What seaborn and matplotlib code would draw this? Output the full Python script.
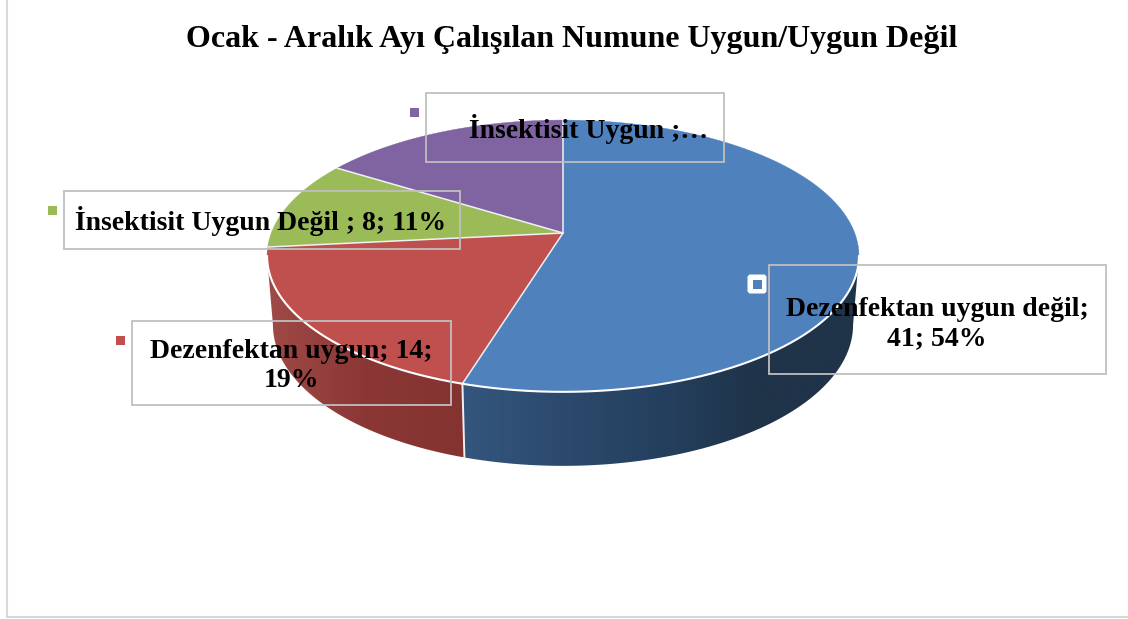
import numpy as np
import matplotlib
matplotlib.use('Agg')
import matplotlib.pyplot as plt
from matplotlib.patches import Polygon, FancyBboxPatch, Rectangle
import seaborn as sns

# Veri
title = "Ocak - Aralık Ayı Çalışılan Numune Uygun/Uygun Değil"
counts = [41, 14, 8, 12]
labels = ["Dezenfektan uygun değil;\n41; 54%", "Dezenfektan uygun; 14;\n19%",
          "İnsektisit Uygun Değil ; 8; 11%", "İnsektisit Uygun ;…"]
top_colors = ["#4f81bd", "#c0504d", "#9bbb59", "#8064a2"]

# Yerlesim (piksel)
W, H = 1128, 619
label_xy = [(937, 324), (291, 366), (261, 221), (589, 129)]
boxes = [(769, 265, 1106, 374), (132, 321, 451, 405), (64, 191, 460, 249), (426, 93, 724, 162)]
keys = [(757, 284), (120, 340), (52, 210), (414, 112)]

K = 0.169  # perspektif


def rim(theta, apex_y, r, s):
    # theta: 12 yonunden saat yonunde derece
    t = np.radians(theta)
    u, v = np.sin(t), np.cos(t)
    w = 1 + K * v
    return 563 + r * u / w, apex_y - s * v / w


def top_rim(theta):
    return rim(theta, 233, 291.7, 132)


def bottom_rim(theta):
    return rim(theta, 301, 285.9, 137)


def wall(ax, t0, t1, cmap):
    th = np.linspace(t0, t1, 150)
    x1, y1 = top_rim(th)
    x2, y2 = bottom_rim(th)
    xy = np.r_[np.c_[x1, y1], np.c_[x2, y2][::-1]]
    poly = Polygon(xy, closed=True, fc='none', ec='none')
    ax.add_patch(poly)
    x0, x3 = xy[:, 0].min(), xy[:, 0].max()
    im = ax.imshow(np.linspace(0, 1, 256)[None, :], cmap=cmap, aspect='auto',
                   extent=(x0, x3, xy[:, 1].max(), xy[:, 1].min()), zorder=1)
    im.set_clip_path(poly)
    return x1, y1, x2, y2


sns.set_theme(style='white')
plt.rcParams['font.family'] = ['Liberation Serif', 'DejaVu Serif']

fig = plt.figure(figsize=(W / 100, H / 100), dpi=100)
ax = fig.add_axes([0, 0, 1, 1])

edges = np.r_[0, np.cumsum(counts)] / np.sum(counts) * 360

# yan duvarlar
blue_wall = sns.blend_palette(["#34567d", "#2c4a6d", "#25405f", "#1f3349", "#1f3349"], 64, as_cmap=True)
red_wall = sns.blend_palette(["#a04a47", "#8a3735", "#853331"], 64, as_cmap=True)
xb = wall(ax, 99.7, edges[1], blue_wall)
xr = wall(ax, edges[1], 260.3, red_wall)

# ust yuzey
for i, c in enumerate(top_colors):
    th = np.linspace(edges[i], edges[i + 1], 120)
    x, y = top_rim(th)
    xy = np.r_[[[563, 233]], np.c_[x, y]]
    ax.add_patch(Polygon(xy, closed=True, fc=c, ec=c, lw=0.3, zorder=2))

# dilim sinirlari
for e in edges[:-1]:
    ex, ey = top_rim(e)
    ax.plot([563, ex], [233, ey], color='#eef1f5', lw=1.1, zorder=3, solid_capstyle='round')

# on kenar cizgisi ve dikis
ax.plot(xb[0], xb[1], color='white', lw=1.5, zorder=3)
ax.plot(xr[0], xr[1], color='white', lw=1.5, zorder=3)
sx0, sy0 = top_rim(edges[1])
sx1, sy1 = bottom_rim(edges[1])
ax.plot([sx0, sx1], [sy0, sy1], color='#f0f0f0', lw=1.4, zorder=3)

# etiket kutulari
for (x0, y0, x1, y1) in boxes:
    ax.add_patch(Rectangle((x0, y0), x1 - x0, y1 - y0, fc='none', ec='#bfbfbf', lw=1.3, zorder=4))
for (kx, ky), c in zip(keys, top_colors):
    if c == top_colors[0]:
        ax.add_patch(FancyBboxPatch((kx - 7, ky - 7), 14, 14, boxstyle='round,pad=2.5,rounding_size=3',
                                    fc='white', ec='none', zorder=4))
    ax.add_patch(Rectangle((kx - 4.5, ky - 4.5), 9, 9, fc=c, ec='none', zorder=5))

for (tx, ty), s in zip(label_xy, labels):
    ax.text(tx, ty, s, ha='center', va='center', fontsize=20, fontweight='bold',
            color='black', linespacing=1.25, zorder=6)
ax.text(572, 39, title, ha='center', va='center', fontsize=23, fontweight='bold', color='black', zorder=6)

# grafik alani cercevesi
ax.plot([7, 7], [0, 617], color='#d9d9d9', lw=1.5)
ax.plot([7, W], [617, 617], color='#d9d9d9', lw=1.5)

ax.set_xlim(0, W)
ax.set_ylim(H, 0)
ax.axis('off')

fig.savefig('out.png', dpi=100)
plt.close()
